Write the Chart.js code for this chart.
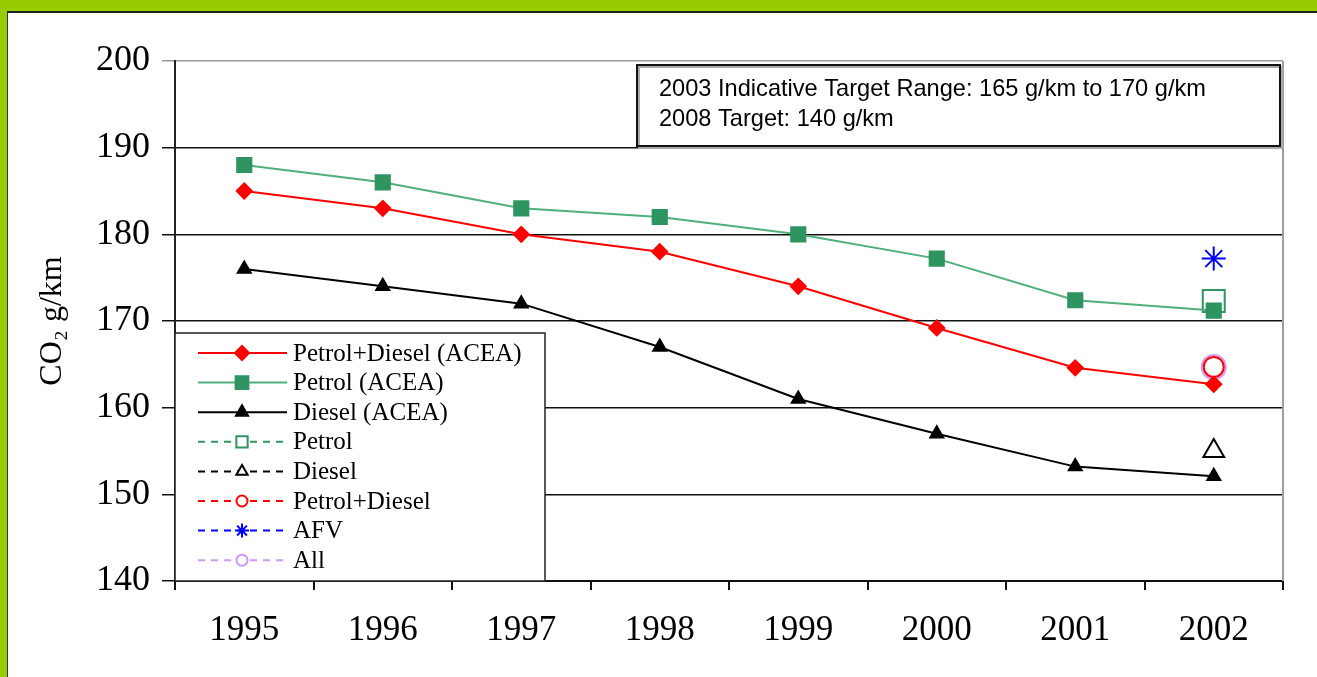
<!DOCTYPE html>
<html>
<head>
<meta charset="utf-8">
<script src="https://cdn.jsdelivr.net/npm/chart.js@4/dist/chart.umd.min.js"></script>
<style>
  body { margin: 0; background: #fff; }
  #frame { position: relative; width: 1317px; height: 677px; background: #99cc00; overflow: hidden; }
  #panel { position: absolute; left: 7px; top: 11px; right: 0; bottom: 0; background: #fff;
           border-left: 1px solid #333; border-top: 2px solid #222; }
  #co2Chart { position: absolute; left: 0; top: 0; }
</style>
</head>
<body>
<div id="frame">
  <div id="panel"></div>
  <canvas id="co2Chart" width="1317" height="677"></canvas>
</div>
<script>
// data
const years = ["1995", "1996", "1997", "1998", "1999", "2000", "2001", "2002"];
const petrolDieselAcea = [185, 183, 180, 178, 174, 169.2, 164.6, 162.7];
const petrolAcea = [188, 186, 183, 182, 180, 177.2, 172.4, 171.2];
const dieselAcea = [176, 174, 172, 167, 161, 157, 153.2, 152.1];
const petrolOnly = [null, null, null, null, null, null, null, 172.3];
const dieselOnly = [null, null, null, null, null, null, null, 155];
const petrolDieselOnly = [null, null, null, null, null, null, null, 164.7];
const afv = [null, null, null, null, null, null, null, 177.2];
const allCars = [null, null, null, null, null, null, null, 164.7];
const yTicks = [140, 150, 160, 170, 180, 190, 200];
const noteLines = ["2003 Indicative Target Range: 165 g/km to 170 g/km", "2008 Target: 140 g/km"];

const serif = "'Liberation Serif', 'Times New Roman', serif";

// legend box + note box drawn onto the chart
const boxesPlugin = {
  id: "boxes",
  afterDatasetsDraw(chart) {
    const ctx = chart.ctx;
    const area = chart.chartArea;
    ctx.save();

    // gray right border of plot area
    ctx.strokeStyle = "#a0a0a0";
    ctx.lineWidth = 2;
    ctx.beginPath();
    ctx.moveTo(area.right, area.top);
    ctx.lineTo(area.right, area.bottom);
    ctx.stroke();

    // legend
    const lx = area.left, ly = 333, lw = 370, lh = area.bottom - 333;
    ctx.fillStyle = "#fff";
    ctx.fillRect(lx, ly, lw, lh);
    ctx.strokeStyle = "#222";
    ctx.lineWidth = 1.5;
    ctx.strokeRect(lx, ly, lw, lh);

    ctx.font = "25px " + serif;
    ctx.textBaseline = "middle";
    ctx.textAlign = "left";
    chart.data.datasets.forEach((ds, i) => {
      const y = ly + 20 + i * 29.6;
      ctx.strokeStyle = ds.borderColor;
      ctx.lineWidth = 2;
      ctx.setLineDash(ds.borderDash || []);
      ctx.beginPath();
      ctx.moveTo(lx + 23, y);
      ctx.lineTo(lx + 112, y);
      ctx.stroke();
      ctx.setLineDash([]);
      ctx.fillStyle = ds.legendFill;
      ctx.strokeStyle = ds.pointBorderColor;
      Chart.helpers.drawPoint(ctx, {
        pointStyle: ds.pointStyle,
        radius: ds.legendRadius,
        borderWidth: 1.5,
        rotation: 0
      }, lx + 67, y);
      ctx.fillStyle = "#000";
      ctx.fillText(ds.label, lx + 118, y + 1);
    });

    // note box
    const bx = 637, by = 65, bw = 643, bh = 81;
    ctx.fillStyle = "#fff";
    ctx.fillRect(bx, by, bw, bh);
    ctx.strokeStyle = "#aaa";
    ctx.lineWidth = 2;
    ctx.strokeRect(bx + 2, by + 2, bw, bh);
    ctx.strokeStyle = "#111";
    ctx.lineWidth = 2;
    ctx.strokeRect(bx, by, bw, bh);
    ctx.fillStyle = "#000";
    ctx.font = "23.6px 'Liberation Sans', Arial, sans-serif";
    ctx.textBaseline = "alphabetic";
    noteLines.forEach((t, i) => ctx.fillText(t, bx + 22, by + 31 + i * 30));

    ctx.restore();
  }
};

const ctx = document.getElementById("co2Chart").getContext("2d");
const co2Chart = new Chart(ctx, {
  type: "line",
  data: {
    labels: years,
    datasets: [
      {
        label: "Petrol+Diesel (ACEA)",
        data: petrolDieselAcea,
        borderColor: "#ff0000",
        backgroundColor: "#ff0000",
        pointBackgroundColor: "#ff0000",
        pointBorderColor: "#ff0000",
        legendFill: "#ff0000",
        pointStyle: "rectRot",
        pointRadius: 7.5,
        legendRadius: 7,
        borderWidth: 2,
      },
      {
        label: "Petrol (ACEA)",
        data: petrolAcea,
        borderColor: "#4fb07a",
        backgroundColor: "#2e9460",
        pointBackgroundColor: "#2e9460",
        pointBorderColor: "#2e9460",
        legendFill: "#2e9460",
        pointStyle: "rect",
        pointRadius: 10,
        legendRadius: 9,
        borderWidth: 2,
      },
      {
        label: "Diesel (ACEA)",
        data: dieselAcea,
        borderColor: "#000000",
        backgroundColor: "#000000",
        pointBackgroundColor: "#000000",
        pointBorderColor: "#000000",
        legendFill: "#000000",
        pointStyle: "triangle",
        pointRadius: 7.5,
        legendRadius: 7,
        borderWidth: 2,
      },
      {
        label: "Petrol",
        data: petrolOnly,
        borderColor: "#2e9460",
        borderDash: [7, 6],
        pointBackgroundColor: "rgba(255,255,255,0)",
        pointBorderColor: "#2e9460",
        legendFill: "#fff",
        pointStyle: "rect",
        pointRadius: 15.5,
        legendRadius: 8,
        pointBorderWidth: 2,
        borderWidth: 2,
      },
      {
        label: "Diesel",
        data: dieselOnly,
        borderColor: "#000000",
        borderDash: [7, 6],
        pointBackgroundColor: "rgba(255,255,255,0)",
        pointBorderColor: "#000000",
        legendFill: "#fff",
        pointStyle: "triangle",
        pointRadius: 12,
        legendRadius: 6.5,
        pointBorderWidth: 2,
        borderWidth: 2,
      },
      {
        label: "Petrol+Diesel",
        data: petrolDieselOnly,
        borderColor: "#ff0000",
        borderDash: [7, 6],
        pointBackgroundColor: "rgba(255,255,255,0)",
        pointBorderColor: "#ff0000",
        legendFill: "#fff",
        pointStyle: "circle",
        pointRadius: 10,
        legendRadius: 5.5,
        pointBorderWidth: 2,
        borderWidth: 2,
      },
      {
        label: "AFV",
        data: afv,
        borderColor: "#0000ff",
        borderDash: [7, 6],
        pointBackgroundColor: "#0000ff",
        pointBorderColor: "#0000ff",
        legendFill: "#0000ff",
        pointStyle: "star",
        pointRadius: 12,
        legendRadius: 7,
        pointBorderWidth: 2,
        borderWidth: 2,
      },
      {
        label: "All",
        data: allCars,
        borderColor: "#cc99ff",
        borderDash: [7, 6],
        pointBackgroundColor: "rgba(255,255,255,0)",
        pointBorderColor: "#cc99ff",
        legendFill: "#fff",
        pointStyle: "circle",
        pointRadius: 12,
        legendRadius: 5.5,
        pointBorderWidth: 2,
        borderWidth: 2,
      },
    ],
  },
  options: {
    responsive: false,
    animation: false,
    layout: { padding: { left: 0, top: 61, right: 34, bottom: 0 } },
    elements: { line: { tension: 0 } },
    plugins: {
      legend: { display: false },
      tooltip: { enabled: false },
    },
    scales: {
      x: {
        type: "category",
        offset: true,
        afterFit: (scale) => { scale.height = 96; },
        grid: {
          offset: true,
          drawOnChartArea: false,
          drawTicks: true,
          tickLength: 9,
          color: "#111",
          lineWidth: 2,
        },
        border: { color: "#111", width: 2 },
        ticks: {
          color: "#000",
          padding: 20,
          maxRotation: 0,
          font: { family: serif, size: 35 },
        },
      },
      y: {
        min: 140,
        max: 200,
        afterFit: (scale) => { scale.width = 175; },
        afterBuildTicks: (scale) => { scale.ticks = yTicks.map((v) => ({ value: v })); },
        grid: {
          drawTicks: true,
          tickLength: 13,
          color: (c) => (c.tick && c.tick.value === 200 ? "#999" : "#111"),
          lineWidth: 1.5,
        },
        border: { color: "#222", width: 2 },
        ticks: {
          color: "#000",
          padding: 12,
          font: { family: serif, size: 36 },
        },
        title: {
          display: true,
          text: "CO₂ g/km",
          color: "#000",
          padding: { top: 33, bottom: 0 },
          font: { family: serif, size: 32 },
        },
      },
    },
  },
  plugins: [boxesPlugin],
});
</script>
</body>
</html>
